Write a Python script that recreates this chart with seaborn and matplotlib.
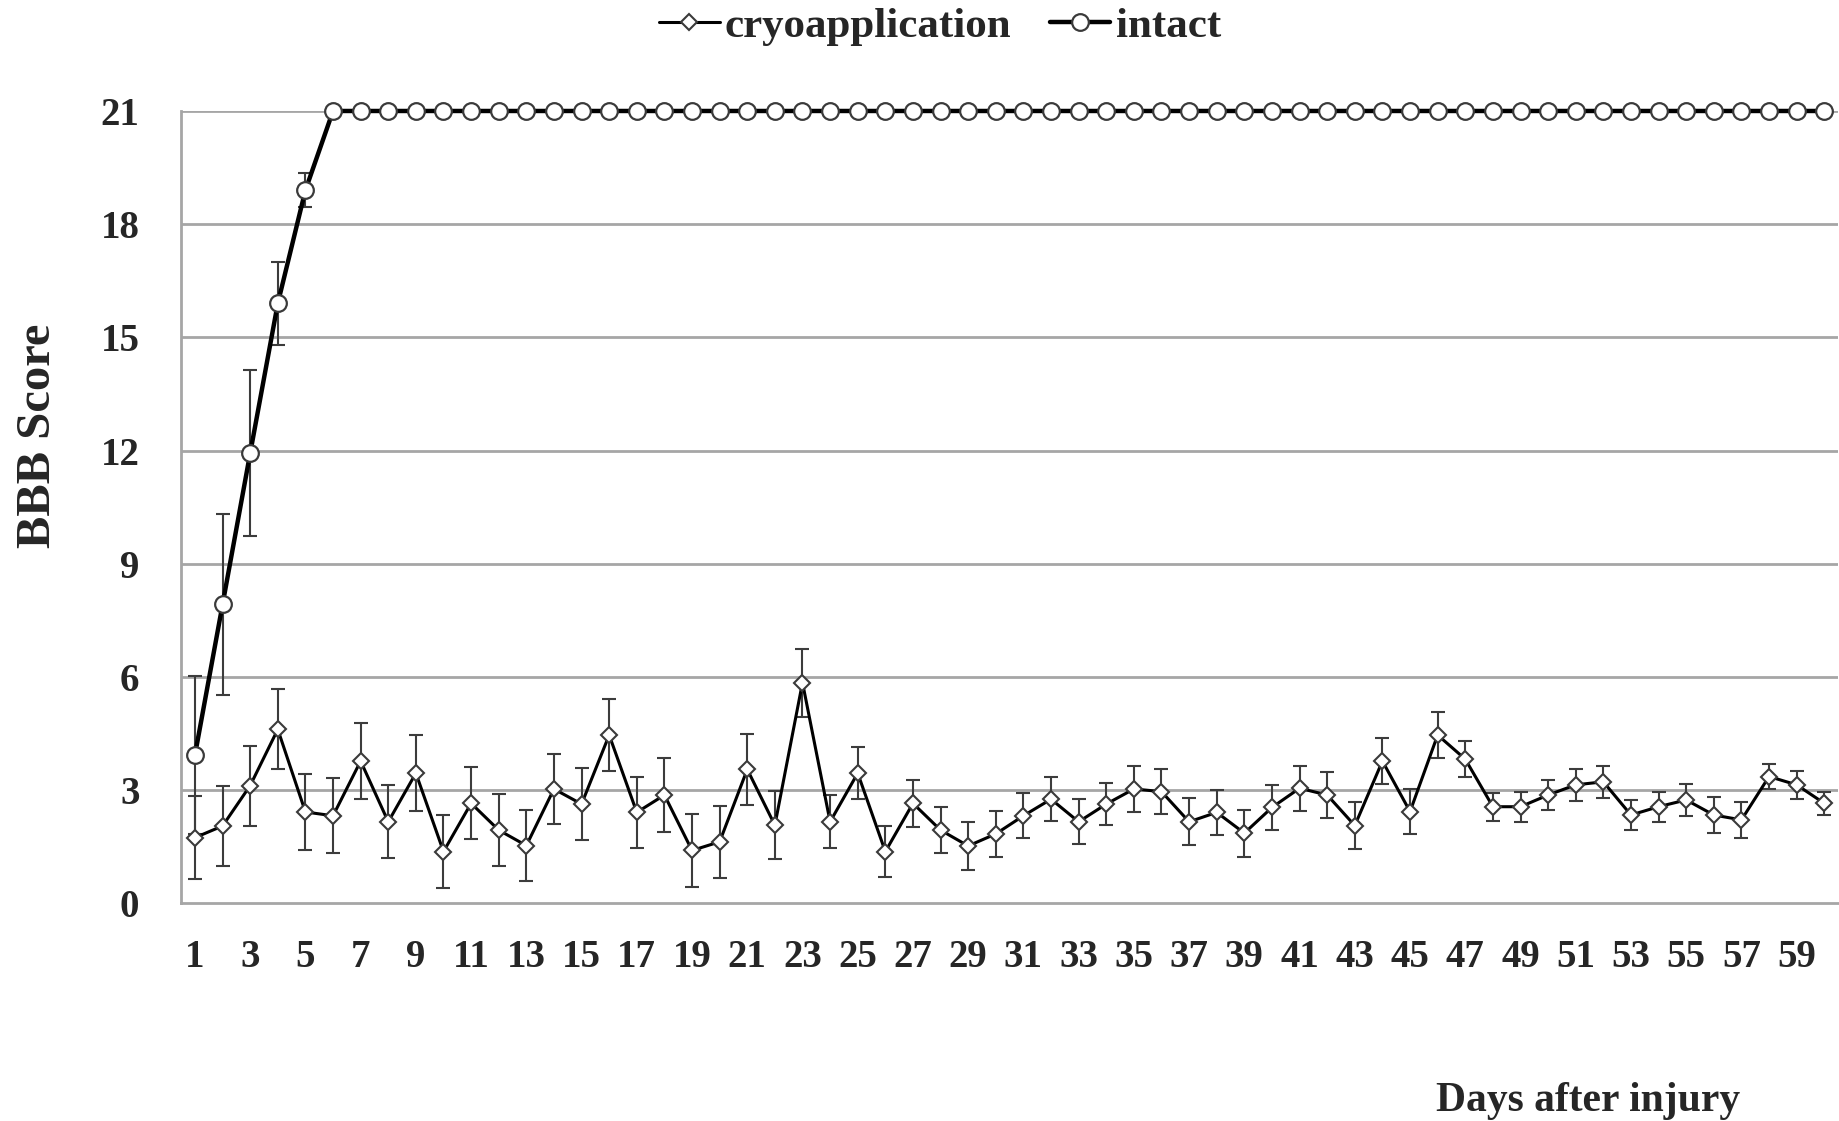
import numpy as np
import pandas as pd
import matplotlib
matplotlib.use("Agg")
import matplotlib.pyplot as plt
import seaborn as sns

days = list(range(1, 61))
cryo_mean = [1.74, 2.05, 3.12, 4.61, 2.42, 2.32, 3.77, 2.16, 3.45, 1.37,
             2.65, 1.94, 1.53, 3.03, 2.63, 4.46, 2.41, 2.87, 1.40, 1.63,
             3.55, 2.07, 5.85, 2.16, 3.45, 1.37, 2.65, 1.94, 1.52, 1.84,
             2.32, 2.76, 2.16, 2.63, 3.03, 2.96, 2.16, 2.41, 1.86, 2.54,
             3.05, 2.87, 2.06, 3.77, 2.43, 4.46, 3.82, 2.56, 2.56, 2.87,
             3.14, 3.22, 2.34, 2.56, 2.74, 2.34, 2.21, 3.36, 3.14, 2.65]
cryo_err = [1.10, 1.07, 1.06, 1.06, 1.00, 1.00, 1.00, 0.97, 1.00, 0.97,
            0.95, 0.95, 0.93, 0.92, 0.95, 0.95, 0.95, 0.97, 0.97, 0.95,
            0.95, 0.90, 0.90, 0.70, 0.68, 0.68, 0.63, 0.62, 0.63, 0.60,
            0.60, 0.58, 0.60, 0.55, 0.60, 0.60, 0.62, 0.60, 0.62, 0.60,
            0.60, 0.60, 0.63, 0.60, 0.60, 0.60, 0.48, 0.37, 0.40, 0.40,
            0.42, 0.42, 0.40, 0.40, 0.43, 0.47, 0.47, 0.32, 0.37, 0.30]
intact_mean = [3.93, 7.92, 11.93, 15.90, 18.90, 21, 21, 21, 21, 21,
               21, 21, 21, 21, 21, 21, 21, 21, 21, 21,
               21, 21, 21, 21, 21, 21, 21, 21, 21, 21,
               21, 21, 21, 21, 21, 21, 21, 21, 21, 21,
               21, 21, 21, 21, 21, 21, 21, 21, 21, 21,
               21, 21, 21, 21, 21, 21, 21, 21, 21, 21]
intact_err = [2.10, 2.40, 2.20, 1.10, 0.45, 0, 0, 0, 0, 0,
              0, 0, 0, 0, 0, 0, 0, 0, 0, 0,
              0, 0, 0, 0, 0, 0, 0, 0, 0, 0,
              0, 0, 0, 0, 0, 0, 0, 0, 0, 0,
              0, 0, 0, 0, 0, 0, 0, 0, 0, 0,
              0, 0, 0, 0, 0, 0, 0, 0, 0, 0]
y_ticks = [0, 3, 6, 9, 12, 15, 18, 21]
x_ticks = list(range(1, 60, 2))

df = pd.DataFrame({
    "day": days + days,
    "score": cryo_mean + intact_mean,
    "err": cryo_err + intact_err,
    "group": ["cryoapplication"] * 60 + ["intact"] * 60,
})

SERIF = ["Liberation Serif", "DejaVu Serif"]
sns.set_theme(style="white")
plt.rcParams["font.family"] = SERIF
plt.rcParams["font.weight"] = "bold"

fig = plt.figure(figsize=(18.39, 11.21), dpi=100)
ax = fig.add_axes([0.0985, 0.1942, 0.901, 0.7068])

grid_c = "#a6a6a6"
for v in y_ticks[1:]:
    ax.axhline(v, color=grid_c, lw=2, zorder=0)

edge = "#3a3a3a"
c = df[df.group == "cryoapplication"]
ax.errorbar(c.day, c.score, yerr=c.err, fmt="none", ecolor="#3c3c3c",
            elinewidth=1.5, capsize=4.8, capthick=1.5, zorder=2)
i = df[(df.group == "intact") & (df.err > 0)]
ax.errorbar(i.day, i.score, yerr=i.err, fmt="none", ecolor="#3c3c3c",
            elinewidth=1.5, capsize=4.8, capthick=1.5, zorder=2)

n_before = len(ax.lines)
sns.lineplot(data=c, x="day", y="score", ax=ax, color="black", lw=2.2,
             marker="D", markerfacecolor="white",
             markeredgecolor=edge, markeredgewidth=1.5,
             label="cryoapplication", zorder=4, clip_on=False)
cryo_line = ax.lines[-1]
sns.lineplot(data=df[df.group == "intact"], x="day", y="score", ax=ax,
             color="black", lw=3.2, marker="o",
             markerfacecolor="white", markeredgecolor=edge,
             markeredgewidth=1.6, label="intact", zorder=3, clip_on=False)
intact_line = ax.lines[-1]
cryo_line.set_markersize(9.2)
intact_line.set_markersize(15.2)

ax.set_xlim(0.5, 60.5)
ax.set_ylim(0, 21)
ax.set_xticks(x_ticks)
ax.set_xticklabels([str(t) for t in x_ticks])
ax.set_yticks(y_ticks)
ax.set_yticklabels([str(t) for t in y_ticks])
ax.tick_params(axis="both", length=0, labelsize=28)
ax.tick_params(axis="y", pad=30)
ax.tick_params(axis="x", pad=26)
for lab in ax.get_xticklabels() + ax.get_yticklabels():
    lab.set_fontweight("bold")
    lab.set_family(SERIF)

for s in ["top", "right"]:
    ax.spines[s].set_visible(False)
for s in ["left", "bottom"]:
    ax.spines[s].set_color(grid_c)
    ax.spines[s].set_linewidth(2)
ax.grid(False)

ax.set_ylabel("BBB Score", fontsize=35, fontweight="bold", family=SERIF)
ax.yaxis.set_label_coords(-0.073, 0.59)
ax.set_xlabel("Days after injury", fontsize=30, fontweight="bold", family=SERIF)
ax.xaxis.set_label_coords(0.849, -0.225)

handles, labels = ax.get_legend_handles_labels()
handles[0].set_markersize(8)
handles[1].set_markersize(12)
if ax.legend_:
    ax.legend_.remove()
leg = fig.legend(handles, labels, loc="center", ncol=2,
                 bbox_to_anchor=(940 / 1839, 1 - 26 / 1121), frameon=False,
                 prop={"size": 31, "weight": "bold", "family": SERIF},
                 handlelength=1.4, handletextpad=0.12, columnspacing=0.9)

fig.savefig("out.png", dpi=100, facecolor="white")
